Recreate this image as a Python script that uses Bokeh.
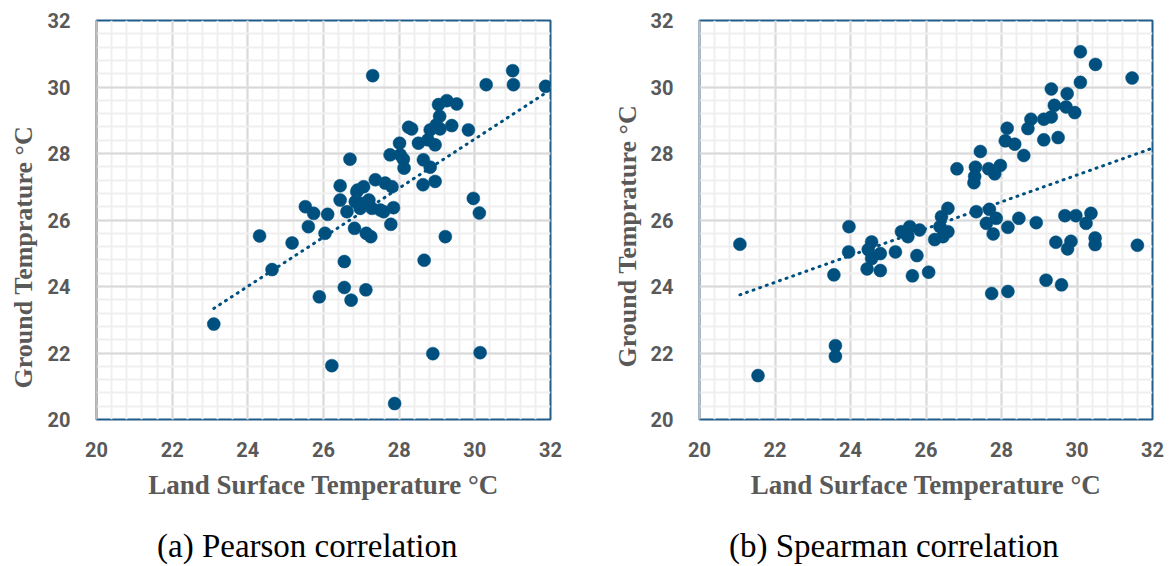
from bokeh.plotting import figure
from bokeh.layouts import row, column
from bokeh.models import Range1d, FixedTicker, ColumnDataSource, Title, Div
from bokeh.embed import file_html
from bokeh.resources import INLINE

# ---------------- data ----------------
pearson_lst = [23.10, 24.31, 25.17, 24.64, 25.52, 25.74, 26.11, 25.60, 26.04, 26.55,
               28.66, 25.89, 26.55, 26.73, 27.12, 26.22, 28.89, 30.14, 27.88, 29.22,
               27.30, 30.30, 31.00, 31.02, 31.87, 29.04, 29.26, 29.52, 29.07, 29.39,
               29.83, 28.25, 28.33, 28.82, 28.98, 29.08, 28.01, 28.51, 28.76, 28.95,
               27.76, 28.03, 28.11, 28.13, 26.70, 28.64, 28.82, 28.63, 28.95, 29.96,
               30.12, 26.44, 26.44, 26.88, 27.06, 27.37, 27.63, 27.81, 26.84, 26.62,
               26.97, 27.28, 27.59, 27.85, 27.78, 26.82, 27.13, 27.25, 27.00, 27.20,
               27.50, 26.90]
pearson_gt = [22.87, 25.52, 25.31, 24.51, 26.40, 26.20, 26.17, 25.80, 25.60, 24.75,
              24.79, 23.69, 23.97, 23.59, 23.90, 21.62, 21.98, 22.01, 20.48, 25.50,
              30.34, 30.07, 30.49, 30.07, 30.02, 29.47, 29.59, 29.49, 29.12, 28.84,
              28.71, 28.79, 28.74, 28.71, 28.86, 28.74, 28.31, 28.31, 28.41, 28.26,
              27.96, 27.96, 27.83, 27.56, 27.83, 27.81, 27.59, 27.06, 27.16, 26.65,
              26.21, 27.03, 26.60, 26.85, 27.00, 27.21, 27.11, 27.00, 26.55, 26.25,
              26.35, 26.35, 26.25, 26.37, 25.87, 25.75, 25.60, 25.50, 26.50, 26.60,
              26.30, 26.90]

spearman_lst = [21.07, 21.55, 23.60, 23.60, 23.56, 23.96, 23.95, 24.56, 24.47, 24.79,
                24.56, 24.44, 24.79, 25.19, 25.76, 25.64, 26.07, 25.35, 25.57, 25.83,
                25.52, 26.23, 26.45, 26.58, 26.37, 26.41, 26.58, 27.33, 27.68, 27.86,
                27.60, 27.78, 28.17, 28.46, 28.92, 27.74, 28.17, 29.18, 29.59, 29.44,
                29.84, 29.75, 30.48, 30.48, 31.60, 29.68, 29.97, 30.37, 30.24, 30.09,
                30.49, 31.46, 30.09, 29.32, 29.74, 29.40, 29.71, 29.94, 29.32, 29.12,
                28.78, 28.70, 28.15, 28.10, 28.35, 29.12, 29.50, 28.59, 27.44, 26.82,
                27.31, 27.29, 27.27, 27.66, 27.82, 27.97]
spearman_gt = [25.27, 21.32, 22.22, 21.90, 24.35, 25.80, 25.04, 25.34, 25.11, 24.99,
               24.84, 24.53, 24.48, 25.04, 24.93, 24.32, 24.43, 25.65, 25.80, 25.70,
               25.50, 25.41, 25.50, 25.65, 25.80, 26.10, 26.35, 26.25, 26.32, 26.05,
               25.90, 25.58, 25.78, 26.05, 25.92, 23.79, 23.85, 24.19, 24.05, 25.33,
               25.36, 25.13, 25.46, 25.26, 25.24, 26.13, 26.13, 26.20, 25.90, 31.06,
               30.68, 30.27, 30.14, 29.94, 29.80, 29.45, 29.40, 29.23, 29.10, 29.03,
               29.03, 28.75, 28.76, 28.38, 28.28, 28.41, 28.48, 27.94, 28.06, 27.54,
               27.59, 27.31, 27.12, 27.54, 27.39, 27.64]

pearson_trend_x = [23.10, 31.90]
pearson_trend_y = [23.34, 29.84]
spearman_trend_x = [21.07, 32.00]
spearman_trend_y = [23.75, 28.16]

major_ticks = [20, 22, 24, 26, 28, 30, 32]
minor_ticks = [round(20 + 0.4 * i, 1) for i in range(31)]

x_title = "Land Surface Temperature °C"
y_title = "Ground Temprature °C"
captions = ["(a) Pearson correlation", "(b) Spearman correlation"]

# ---------------- style ----------------
DOT = "#00507f"
OUTLINE = "#1f5d8a"
TICK_COL = "#595959"
FIG_H = 516
CAP_H = 50


def make_panel(xs, ys, tx, ty, width, bl, br, yt_offset, yt_standoff):
    p = figure(width=width, height=FIG_H, x_range=Range1d(20, 32), y_range=Range1d(20, 32),
               output_backend="svg", toolbar_location=None,
               min_border_left=bl, min_border_right=br, min_border_top=20,
               min_border_bottom=FIG_H - 419)
    p.background_fill_color = "white"
    p.border_fill_color = "white"
    p.outline_line_color = OUTLINE
    p.outline_line_width = 2

    tk = FixedTicker(ticks=major_ticks, minor_ticks=minor_ticks)
    for ax in (p.xaxis[0], p.yaxis[0]):
        ax.ticker = tk
        ax.major_tick_line_color = None
        ax.minor_tick_line_color = None
        ax.major_label_text_font = "Roboto"
        ax.major_label_text_font_style = "bold"
        ax.major_label_text_font_size = "20px"
        ax.major_label_text_color = TICK_COL
        ax.axis_label_text_font = "Liberation Serif"
        ax.axis_label_text_font_style = "bold"
        ax.axis_label_text_font_size = "27px"
        ax.axis_label_text_color = TICK_COL
    p.xaxis.axis_line_color = None
    p.yaxis.axis_line_color = "#bfbfbf"
    p.yaxis.axis_line_width = 2
    p.xaxis.major_label_standoff = 16
    p.yaxis.major_label_standoff = 20
    p.xaxis.axis_label = x_title
    p.xaxis.axis_label_standoff = 10

    for g in (p.xgrid[0], p.ygrid[0]):
        g.ticker = tk
        g.grid_line_color = "#d9d9d9"
        g.grid_line_width = 2
        g.minor_grid_line_color = "#efefef"
        g.minor_grid_line_width = 2

    src = ColumnDataSource(dict(x=xs, y=ys))
    p.scatter("x", "y", source=src, size=13, fill_color=DOT, line_color=DOT, line_width=0.5)
    p.line(tx, ty, line_color=DOT, line_width=3, line_dash="1 6", line_cap="round")

    # rotated y title, shifted below the frame centre as in the original
    p.add_layout(Title(text=y_title, align="left", offset=yt_offset, standoff=yt_standoff,
                       text_font="Liberation Serif", text_font_style="bold",
                       text_font_size="26px", text_color=TICK_COL), "left")
    return p


def caption_div(text, width, pad_left):
    return Div(text=text, width=width, height=CAP_H, margin=0,
               styles={"font-family": "'Liberation Serif', 'Times New Roman', serif",
                       "font-size": "33px", "color": "black", "line-height": "%dpx" % CAP_H,
                       "padding-left": "%dpx" % pad_left, "padding-top": "5px",
                       "white-space": "nowrap", "box-sizing": "border-box",
                       "overflow": "visible"})


p1 = make_panel(pearson_lst, pearson_gt, pearson_trend_x, pearson_trend_y, 584, 96, 34, 31, 13)
p2 = make_panel(spearman_lst, spearman_gt, spearman_trend_x, spearman_trend_y, 585, 115, 17, 52, 11)
d1 = caption_div(captions[0], 584, 157)
d2 = caption_div(captions[1], 585, 145)

layout = column(row(p1, p2, spacing=0), row(d1, d2, spacing=0), spacing=0)
open("out.html", "w").write(file_html(layout, INLINE))
